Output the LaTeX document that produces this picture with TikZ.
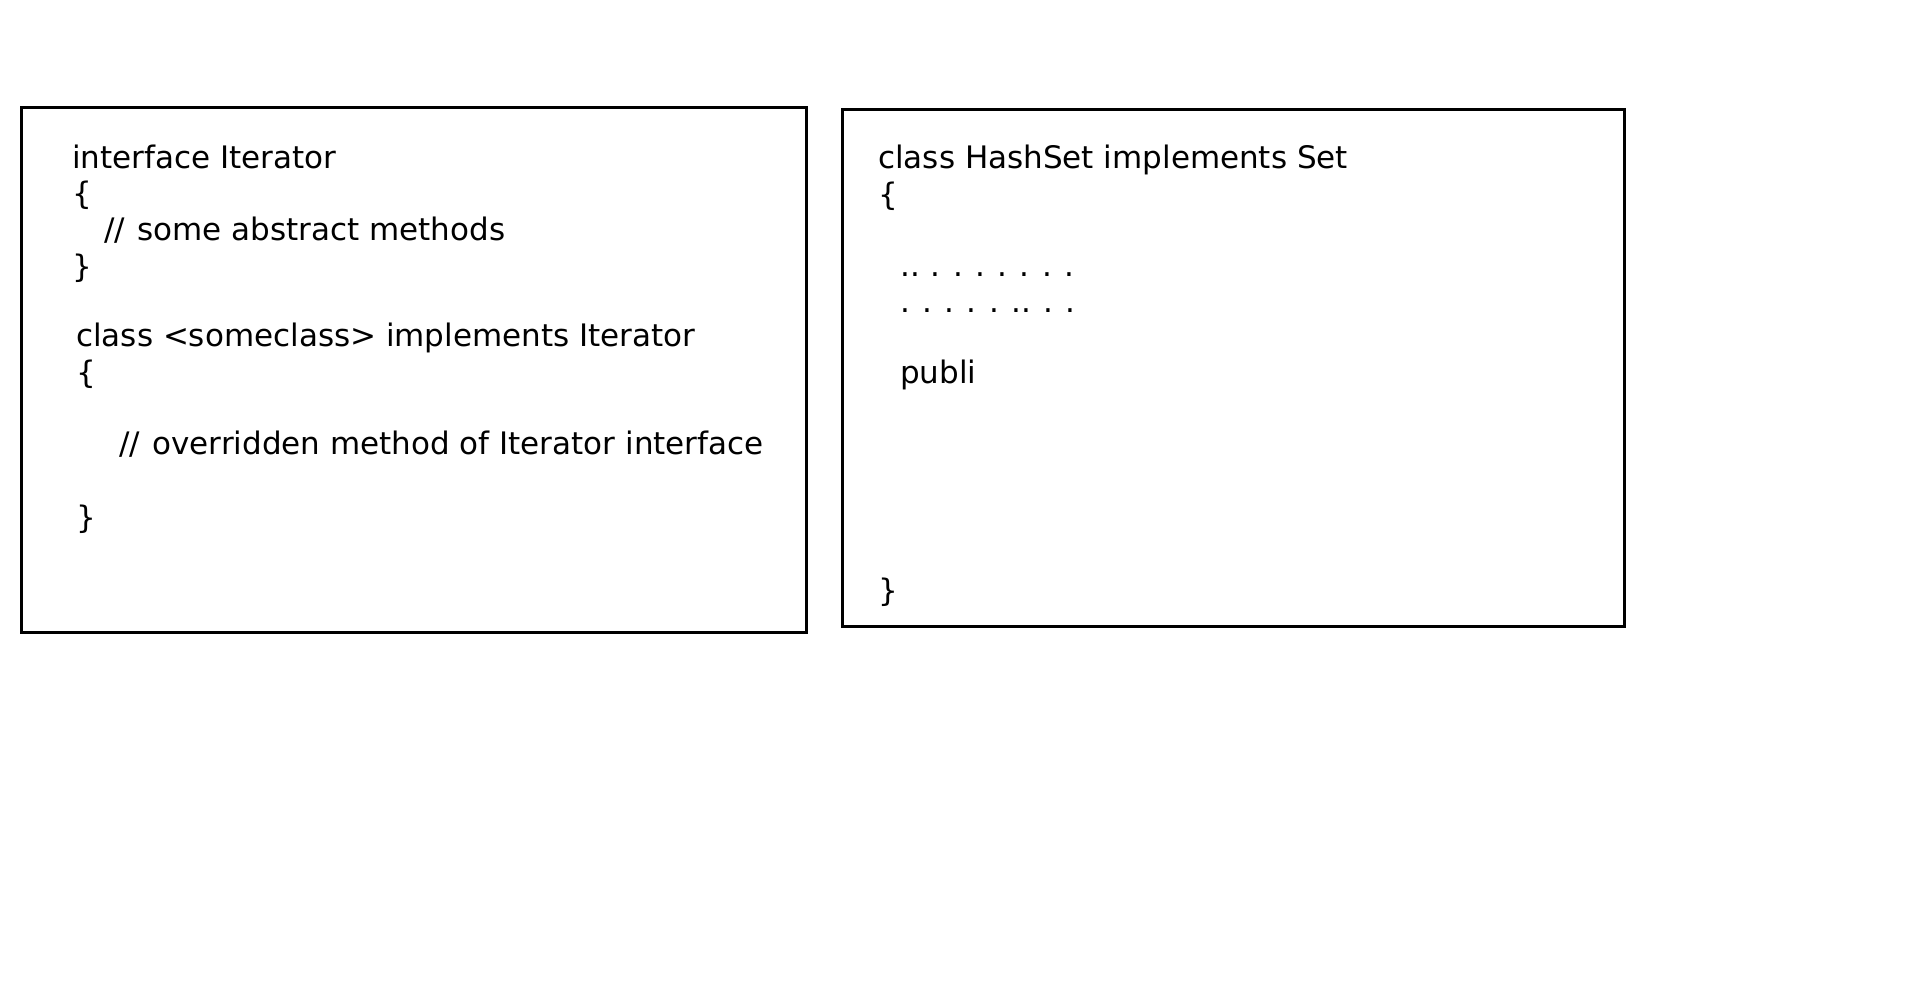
\documentclass[tikz,border=0pt]{standalone}
\usepackage{fontspec}
\setmainfont{DejaVu Sans}
\begin{document}
\begin{tikzpicture}[x=1pt,y=-1pt,
  box/.style={draw=black,line width=3pt},
  code/.style={anchor=base west,inner sep=0pt,font=\fontsize{31}{37}\selectfont}]
\useasboundingbox (0,0) rectangle (1920,991);
% left box
\draw[box] (21,107) rectangle (806,632);
\node[code] (l1) at (72,168) {interface Iterator};
\node[code] (l2) at (72,204) {\{};
\node[code] (l3) at (104,240) {//\hspace{0.08em} some abstract methods};
\node[code] (l4) at (72,277) {\}};
\node[code] (l5) at (76,346) {class <someclass> implements Iterator};
\node[code] (l6) at (76,383) {\{};
\node[code] (l7) at (119,454) {//\hspace{0.08em} overridden method of Iterator interface};
\node[code] (l8) at (76,528) {\}};
% right box
\draw[box] (842,109) rectangle (1624,626);
\node[code] (r1) at (878,168) {class HashSet implements Set};
\node[code] (r2) at (878,205) {\{};
\node[code] (r3) at (900,276) {..\hspace{0.35em}.\hspace{0.4em}.\hspace{0.4em}.\hspace{0.4em}.\hspace{0.4em}.\hspace{0.4em}.\hspace{0.4em}.};
\node[code] (r4) at (900,312) {.\hspace{0.4em}.\hspace{0.4em}.\hspace{0.4em}.\hspace{0.4em}.\hspace{0.4em}..\hspace{0.4em}.\hspace{0.4em}.};
\node[code] (r5) at (900,383) {publi};
\node[code] (r6) at (878,601) {\}};
\end{tikzpicture}
\end{document}
